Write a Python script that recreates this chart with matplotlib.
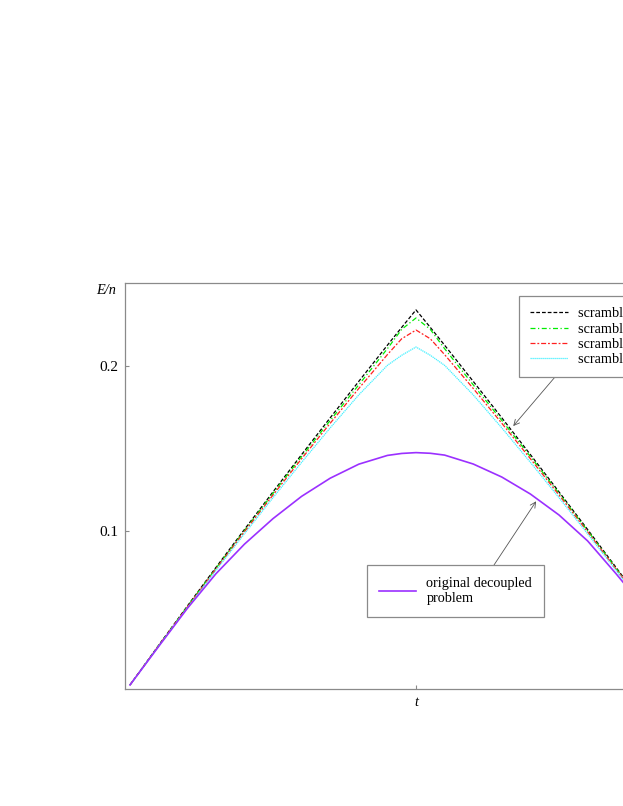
import matplotlib
matplotlib.use("Agg")
import matplotlib.pyplot as plt

plt.rcParams['font.family'] = ['Liberation Serif', 'DejaVu Serif']

t = [0.0, 0.1, 0.2, 0.3, 0.4, 0.5, 0.6, 0.7, 0.8, 0.9, 0.95, 1.0,
     1.05, 1.1, 1.2, 1.3, 1.4, 1.5, 1.6, 1.7, 1.8, 1.9, 2.0]

scr_black = [0.0067, 0.0307, 0.0544, 0.0778, 0.1009, 0.1237, 0.1463, 0.1686, 0.1907, 0.2126, 0.2234, 0.2340,
             0.2234, 0.2126, 0.1907, 0.1686, 0.1463, 0.1237, 0.1009, 0.0778, 0.0544, 0.0307, 0.0067]
scr_green = [0.0067, 0.0305, 0.0541, 0.0773, 0.1002, 0.1228, 0.1451, 0.1670, 0.1886, 0.2105, 0.2222, 0.2291,
             0.2222, 0.2105, 0.1886, 0.1670, 0.1451, 0.1228, 0.1002, 0.0773, 0.0541, 0.0305, 0.0067]
scr_red = [0.0067, 0.0304, 0.0538, 0.0768, 0.0995, 0.1218, 0.1438, 0.1653, 0.1864, 0.2069, 0.2165, 0.2218,
           0.2165, 0.2069, 0.1864, 0.1653, 0.1438, 0.1218, 0.0995, 0.0768, 0.0538, 0.0304, 0.0067]
scr_cyan = [0.0067, 0.0302, 0.0533, 0.0760, 0.0983, 0.1202, 0.1416, 0.1625, 0.1825, 0.2004, 0.2065, 0.2115,
            0.2065, 0.2004, 0.1825, 0.1625, 0.1416, 0.1202, 0.0983, 0.0760, 0.0533, 0.0302, 0.0067]
original = [0.0067, 0.0300, 0.0530, 0.0740, 0.0920, 0.1075, 0.1210, 0.1320, 0.1405, 0.1458, 0.1470, 0.1475,
            0.1471, 0.1460, 0.1406, 0.1327, 0.1224, 0.1097, 0.0940, 0.0740, 0.0530, 0.0300, 0.0067]

scr_labels = ["scrambled 1", "scrambled 2", "scrambled 3", "scrambled 4"]
orig_label = "original decoupled\nproblem"
ytick_vals = [0.1, 0.2]
ytick_labels = ["0.1", "0.2"]
xtick_vals = [1.0]

W, H = 623, 806
fig = plt.figure(figsize=(W / 100, H / 100), dpi=100)
ax = fig.add_axes([125 / W, (H - 689) / H, (707 - 125) / W, (689 - 283) / H])

gray = '#8a8a8a'
l1, = ax.plot(t, scr_black, color='black', lw=0.9, ls=(0, (3, 1.6)))
l2, = ax.plot(t, scr_green, color='#00ee00', lw=0.9, ls=(0, (4, 2, 1, 2)))
l3, = ax.plot(t, scr_red, color='#ff2020', lw=0.9, ls=(0, (4, 1.5, 1.5, 1.5)))
l4, = ax.plot(t, scr_cyan, color='#40f0ff', lw=0.9, ls=(0, (1, 0.6)))
l5, = ax.plot(t, original, color='#9b30ff', lw=1.2)

ax.set_xlim(-0.0175, 2.0175)
ax.set_ylim(0.00424, 0.2503)
ax.set_yticks(ytick_vals)
ax.set_yticklabels(ytick_labels)
ax.set_xticks(xtick_vals)
ax.set_xticklabels([""])
ax.tick_params(direction='in', length=3, width=0.8, color=gray, labelsize=11, pad=5)
for s in ax.spines.values():
    s.set_color(gray)
    s.set_linewidth(0.9)

fig.text(116 / W, 1 - 291 / H, "E/n", style='italic', ha='right', va='center', fontsize=10.3)
fig.text(416 / W, 1 - 703 / H, "t", style='italic', ha='center', va='center', fontsize=10.3)

leg1 = ax.legend([l1, l2, l3, l4], scr_labels, loc='upper left',
                 bbox_to_anchor=(519 / W, 1 - 296 / H), bbox_transform=fig.transFigure,
                 fancybox=False, framealpha=1, edgecolor=gray, fontsize=10.3,
                 handlelength=2.6, handletextpad=0.75, labelspacing=0.15,
                 borderpad=0.8, borderaxespad=0)
leg1.get_frame().set_linewidth(0.9)
ax.add_artist(leg1)

leg2 = ax.legend([l5], [orig_label], loc='upper left',
                 bbox_to_anchor=(367 / W, 1 - 565 / H), bbox_transform=fig.transFigure,
                 fancybox=False, framealpha=1, edgecolor=gray, fontsize=10.3,
                 handlelength=2.6, handletextpad=0.7, borderpad=0.85, borderaxespad=0)
leg2.get_frame().set_linewidth(0.9)

ax.annotate("", xy=(1.34, 0.1636), xycoords='data',
            xytext=(555, H - 377), textcoords='figure pixels',
            arrowprops=dict(arrowstyle='->', color='#555555', lw=0.6, shrinkA=0, shrinkB=0))
ax.annotate("", xy=(1.42, 0.118), xycoords='data',
            xytext=(494, H - 565), textcoords='figure pixels',
            arrowprops=dict(arrowstyle='->', color='#555555', lw=0.6, shrinkA=0, shrinkB=0))

fig.savefig("out.png", dpi=100)
